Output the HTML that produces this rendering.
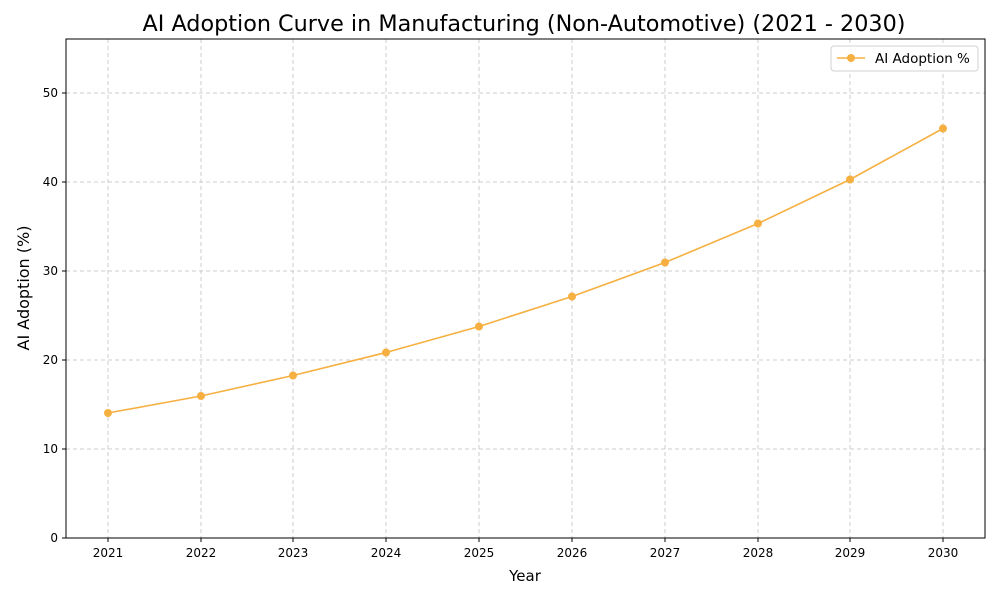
<!DOCTYPE html>
<html><head><meta charset="utf-8"><style>
body{margin:0;background:#fff;}
svg{display:block;font-family:"DejaVu Sans","Liberation Sans",sans-serif;}
</style></head><body>
<svg width="1000" height="600" viewBox="0 0 1000 600">
<rect width="1000" height="600" fill="#fff"/>
<text x="524" y="31" font-size="22.3" text-anchor="middle" fill="#000">AI Adoption Curve in Manufacturing (Non-Automotive) (2021 - 2030)</text>
<g stroke="#cccccc" stroke-width="1" stroke-dasharray="4,3">
<line x1="66" x2="985" y1="449" y2="449"/><line x1="66" x2="985" y1="360" y2="360"/>
<line x1="66" x2="985" y1="271" y2="271"/><line x1="66" x2="985" y1="182" y2="182"/>
<line x1="66" x2="985" y1="93" y2="93"/>
<line y1="39" y2="538" x1="108" x2="108"/><line y1="39" y2="538" x1="201" x2="201"/>
<line y1="39" y2="538" x1="293" x2="293"/><line y1="39" y2="538" x1="386" x2="386"/>
<line y1="39" y2="538" x1="479" x2="479"/><line y1="39" y2="538" x1="572" x2="572"/>
<line y1="39" y2="538" x1="665" x2="665"/><line y1="39" y2="538" x1="758" x2="758"/>
<line y1="39" y2="538" x1="850" x2="850"/><line y1="39" y2="538" x1="943" x2="943"/>
</g>
<rect x="66" y="39" width="919" height="499" fill="none" stroke="#000" stroke-width="1"/>
<g stroke="#000" stroke-width="1">
<line x1="62" x2="66" y1="538" y2="538"/><line x1="62" x2="66" y1="449" y2="449"/><line x1="62" x2="66" y1="360" y2="360"/><line x1="62" x2="66" y1="271" y2="271"/><line x1="62" x2="66" y1="182" y2="182"/><line x1="62" x2="66" y1="93" y2="93"/>
<line y1="538" y2="542" x1="108" x2="108"/><line y1="538" y2="542" x1="201" x2="201"/><line y1="538" y2="542" x1="293" x2="293"/><line y1="538" y2="542" x1="386" x2="386"/><line y1="538" y2="542" x1="479" x2="479"/><line y1="538" y2="542" x1="572" x2="572"/><line y1="538" y2="542" x1="665" x2="665"/><line y1="538" y2="542" x1="758" x2="758"/><line y1="538" y2="542" x1="850" x2="850"/><line y1="538" y2="542" x1="943" x2="943"/>
</g>
<g font-size="12" fill="#000" text-anchor="end">
<text x="58" y="542">0</text><text x="58" y="453">10</text><text x="58" y="364">20</text><text x="58" y="275">30</text><text x="58" y="186">40</text><text x="58" y="97">50</text>
</g>
<g font-size="12" fill="#000" text-anchor="middle">
<text x="108" y="557">2021</text><text x="201" y="557">2022</text><text x="293" y="557">2023</text><text x="386" y="557">2024</text><text x="479" y="557">2025</text><text x="572" y="557">2026</text><text x="665" y="557">2027</text><text x="758" y="557">2028</text><text x="850" y="557">2029</text><text x="943" y="557">2030</text>
</g>
<text x="525" y="581" font-size="15" text-anchor="middle">Year</text>
<text transform="translate(29,288) rotate(-90)" font-size="16" text-anchor="middle">AI Adoption (%)</text>
<polyline fill="none" stroke="#f5b041" stroke-width="1.6" points="108,413 201,396 293,375.5 386,352.5 479,326.5 572,296.5 665,262.5 758,223.5 850,179.5 943,128.5"/>
<g fill="#f5b041">
<circle cx="108" cy="413" r="4"/><circle cx="201" cy="396" r="4"/><circle cx="293" cy="375.5" r="4"/><circle cx="386" cy="352.5" r="4"/><circle cx="479" cy="326.5" r="4"/><circle cx="572" cy="296.5" r="4"/><circle cx="665" cy="262.5" r="4"/><circle cx="758" cy="223.5" r="4"/><circle cx="850" cy="179.5" r="4"/><circle cx="943" cy="128.5" r="4"/>
</g>
<rect x="831" y="46" width="147" height="25" rx="3" fill="#fff" stroke="#d0d0d0"/>
<line x1="837" x2="865" y1="58" y2="58" stroke="#f5b041" stroke-width="1.6"/>
<circle cx="851" cy="58" r="4" fill="#f5b041"/>
<text x="875" y="63" font-size="13.5">AI Adoption %</text>
</svg>
</body></html>
